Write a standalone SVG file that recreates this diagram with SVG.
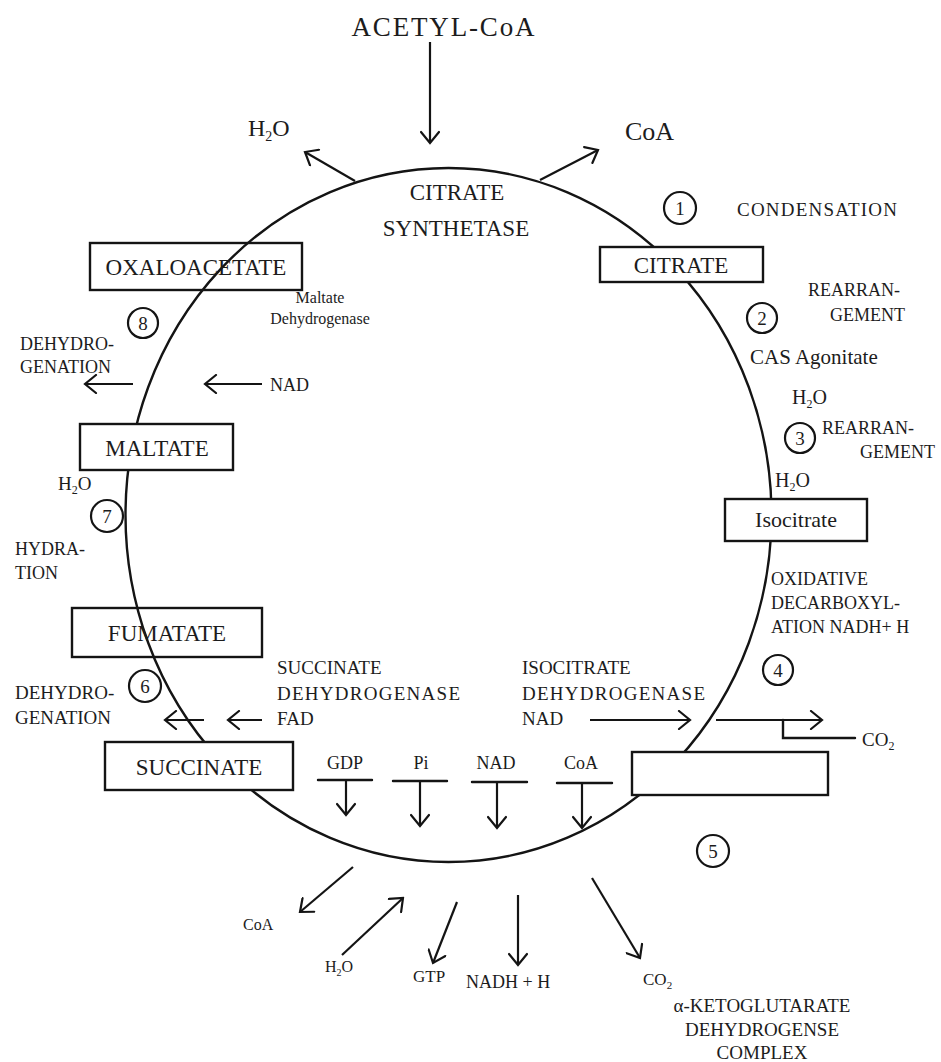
<svg xmlns="http://www.w3.org/2000/svg" width="941" height="1062" viewBox="0 0 941 1062">
<defs>
<marker id="ah" viewBox="0 0 20 20" refX="18" refY="10" markerWidth="20" markerHeight="20" markerUnits="userSpaceOnUse" orient="auto">
<path d="M7,1 L18,10 L7,19" fill="none" stroke="#141414" stroke-width="2.2" stroke-linecap="round"/>
</marker>
<style>
.ln{fill:none;stroke:#141414;stroke-width:2.4;stroke-linecap:round}
.ar{fill:none;stroke:#141414;stroke-width:2.2;marker-end:url(#ah)}
.bx{fill:#fff;stroke:#141414;stroke-width:2.4}
.bo{fill:none;stroke:#141414;stroke-width:2.4}
.num{fill:#fff;stroke:#141414;stroke-width:2.2}
text{font-family:"Liberation Serif","Times New Roman",serif;fill:#1c1c1c}
.b{font-size:23px}
.m{font-size:19px}
.s{font-size:16px}
.n{font-size:19px;text-anchor:middle}
.c{text-anchor:middle}
</style>
</defs>
<rect width="941" height="1062" fill="#fff"/>

<g id="connectors">
<ellipse cx="448.5" cy="515" rx="323" ry="347" class="ln"/>
<path class="ar" d="M430,42 L430,143"/>
<path class="ar" d="M355,181 L305,152"/>
<path class="ar" d="M540,180 L598,150"/>
<path class="ar" d="M133,384 L85,384"/>
<path class="ar" d="M262,384 L205,384"/>
<path class="ar" d="M204,720 L165,720"/>
<path class="ar" d="M262,720 L228,720"/>
<path class="ar" d="M590,720 L690,720"/>
<path class="ar" d="M716,720 L822,720"/>
<path class="ln" d="M783,720 L783,738 L855,738"/>
<path class="ln" d="M318,780 L372,780 M393,781 L447,781 M472,782 L527,782 M557,783 L612,783"/>
<path class="ar" d="M346,780 L346,815"/>
<path class="ar" d="M420,781 L420,826"/>
<path class="ar" d="M497,782 L497,828"/>
<path class="ar" d="M582,783 L582,828"/>
<path class="ar" d="M353,867 L300,912"/>
<path class="ar" d="M342,955 L403,898"/>
<path class="ar" d="M457,902 L433,963"/>
<path class="ar" d="M518,895 L518,965"/>
<path class="ar" d="M592,878 L640,958"/>
</g>

<g id="acetyl-coa"><text x="443" y="36" class="c" font-size="27" textLength="183" lengthAdjust="spacing">ACETYL-CoA</text></g>
<g id="h2o-top"><text x="248" y="136" font-size="24">H<tspan font-size="14" dy="5">2</tspan><tspan dy="-5">O</tspan></text></g>
<g id="coa-top"><text x="625" y="140" font-size="26">CoA</text></g>
<g id="citrate-synthetase"><text x="457" y="200" class="b c">CITRATE</text><text x="456" y="236" class="b c">SYNTHETASE</text></g>

<g id="step1"><circle cx="680" cy="208" r="16" class="num"/><text x="680" y="215" class="n">1</text><text x="737" y="216" class="m" textLength="160" lengthAdjust="spacing">CONDENSATION</text></g>

<g id="citrate"><rect x="600" y="247" width="163" height="35" class="bx"/><text x="681" y="273" class="b c">CITRATE</text></g>

<g id="oxaloacetate"><rect x="90" y="243" width="212" height="47" class="bo"/><text x="196" y="275" class="b c">OXALOACETATE</text></g>

<g id="step8"><circle cx="143" cy="323" r="15" class="num"/><text x="143" y="330" class="n">8</text>
<text x="320" y="303" class="s c">Maltate</text><text x="320" y="324" class="s c">Dehydrogenase</text>
<text x="20" y="350" font-size="18">DEHYDRO-</text><text x="20" y="373" font-size="18">GENATION</text>
<text x="270" y="391" font-size="18">NAD</text></g>

<g id="step2"><circle cx="762" cy="318" r="15" class="num"/><text x="762" y="325" class="n">2</text>
<text x="808" y="296" font-size="18">REARRAN-</text><text x="905" y="321" font-size="18" text-anchor="end">GEMENT</text>
<text x="750" y="364" font-size="21">CAS Agonitate</text>
<text x="792" y="404" font-size="20">H<tspan font-size="12" dy="4">2</tspan><tspan dy="-4">O</tspan></text></g>

<g id="step3"><circle cx="800" cy="438" r="15" class="num"/><text x="800" y="445" class="n">3</text>
<text x="822" y="434" font-size="18">REARRAN-</text><text x="935" y="458" font-size="18" text-anchor="end">GEMENT</text>
<text x="775" y="487" font-size="20">H<tspan font-size="12" dy="4">2</tspan><tspan dy="-4">O</tspan></text></g>

<g id="maltate"><rect x="80" y="424" width="153" height="46" class="bx"/><text x="157" y="456" class="b c">MALTATE</text></g>

<g id="isocitrate"><rect x="725" y="499" width="142" height="42" class="bx"/><text x="796" y="527" font-size="22" class="c">Isocitrate</text></g>

<g id="step7"><circle cx="107" cy="516" r="16" class="num"/><text x="107" y="523" class="n">7</text>
<text x="58" y="490" font-size="19">H<tspan font-size="12" dy="4">2</tspan><tspan dy="-4">O</tspan></text>
<text x="15" y="555" font-size="18">HYDRA-</text><text x="15" y="579" font-size="18">TION</text></g>

<g id="step4"><circle cx="778" cy="670" r="15" class="num"/><text x="778" y="677" class="n">4</text>
<text x="771" y="585" font-size="18">OXIDATIVE</text><text x="771" y="609" font-size="18">DECARBOXYL-</text><text x="771" y="633" font-size="18">ATION NADH+ H</text>
<text x="522" y="674" font-size="19">ISOCITRATE</text><text x="522" y="700" font-size="19" textLength="183" lengthAdjust="spacing">DEHYDROGENASE</text><text x="522" y="725" font-size="19">NAD</text>
<text x="862" y="746" font-size="19">CO<tspan font-size="12" dy="4">2</tspan></text></g>

<g id="fumatate"><rect x="72" y="608" width="190" height="49" class="bo"/><text x="167" y="641" class="b c">FUMATATE</text></g>

<g id="step6"><circle cx="145" cy="686" r="16" class="num"/><text x="145" y="693" class="n">6</text>
<text x="15" y="699" font-size="19">DEHYDRO-</text><text x="15" y="724" font-size="19">GENATION</text>
<text x="277" y="674" font-size="19">SUCCINATE</text><text x="277" y="700" font-size="19" textLength="183" lengthAdjust="spacing">DEHYDROGENASE</text><text x="277" y="725" font-size="19">FAD</text></g>

<g id="succinate"><rect x="105" y="742" width="188" height="48" class="bx"/><text x="199" y="775" class="b c">SUCCINATE</text></g>

<g id="alpha-ketoglutarate"><rect x="632" y="752" width="196" height="43" class="bx"/></g>

<g id="step5-inputs">
<text x="345" y="769" font-size="18" class="c">GDP</text>
<text x="421" y="769" font-size="18" class="c">Pi</text>
<text x="496" y="769" font-size="18" class="c">NAD</text>
<text x="581" y="769" font-size="18" class="c">CoA</text>
</g>

<g id="step5"><circle cx="713" cy="851" r="16" class="num"/><text x="713" y="858" class="n">5</text></g>

<g id="step5-outputs">
<text x="243" y="930" font-size="16">CoA</text>
<text x="325" y="972" font-size="16">H<tspan font-size="10" dy="4">2</tspan><tspan dy="-4">O</tspan></text>
<text x="413" y="982" font-size="17">GTP</text>
<text x="466" y="988" font-size="18">NADH + H</text>
<text x="643" y="985" font-size="17">CO<tspan font-size="11" dy="4">2</tspan></text>
<text x="762" y="1012" font-size="19" class="c">α-KETOGLUTARATE</text>
<text x="762" y="1036" font-size="19" class="c">DEHYDROGENSE</text>
<text x="762" y="1059" font-size="19" class="c">COMPLEX</text>
</g>
</svg>
